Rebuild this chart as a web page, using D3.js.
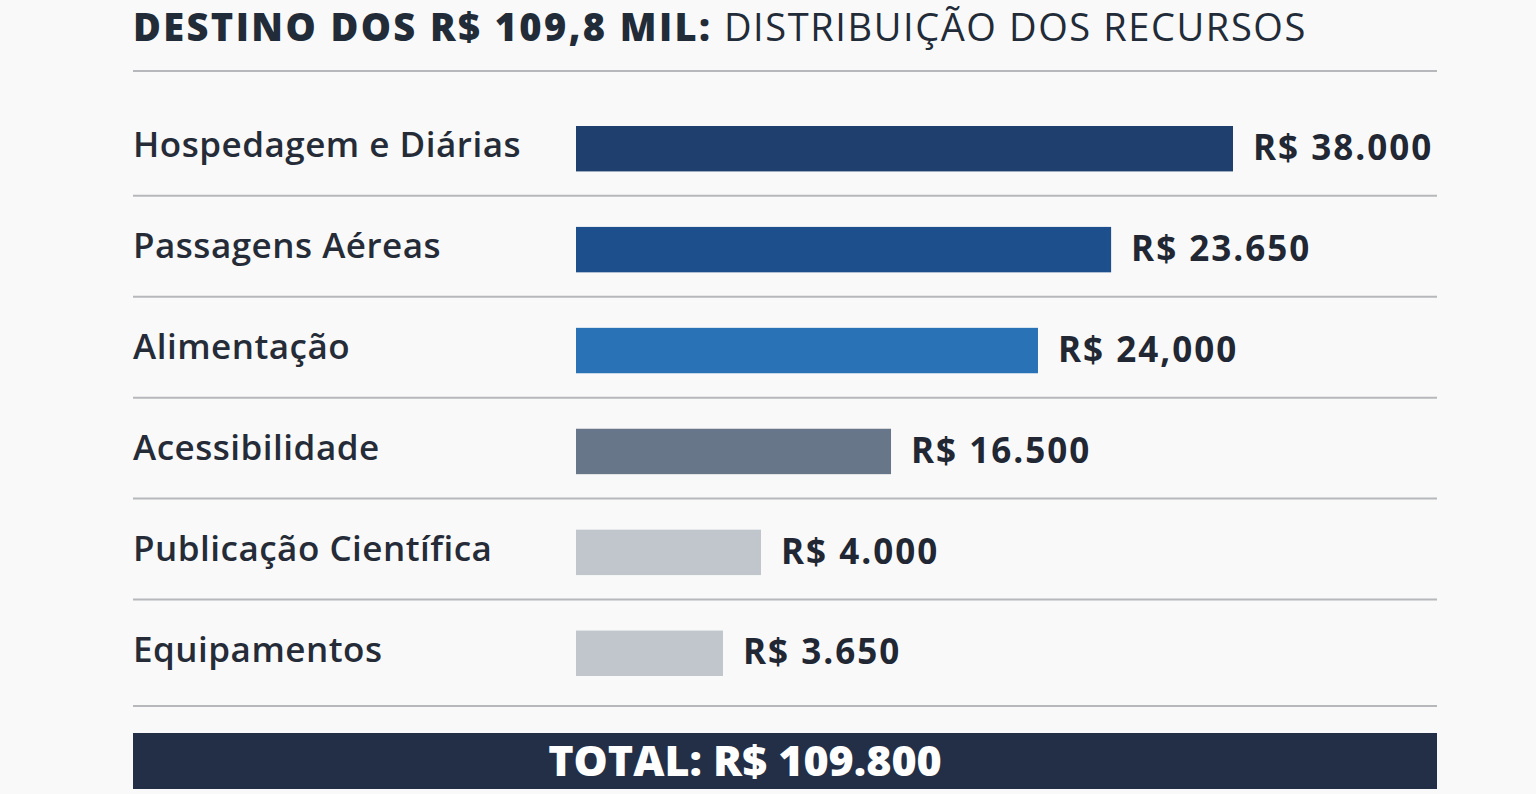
<!DOCTYPE html>
<html>
<head>
<meta charset="utf-8">
<script src="https://cdn.jsdelivr.net/npm/d3@7"></script>
<style>
  html, body { margin: 0; padding: 0; background: #f9f9f9; }
  svg { display: block; }
</style>
</head>
<body>
<script>
//categories, in display order
var categories = ["Hospedagem e Diárias", "Passagens Aéreas", "Alimentação",
                  "Acessibilidade", "Publicação Científica", "Equipamentos"];
//printed value labels (kept as written in the picture)
var valueLabels = ["R$ 38.000", "R$ 23.650", "R$ 24,000", "R$ 16.500", "R$ 4.000", "R$ 3.650"];
//bar lengths in R$ as drawn in the picture (the bars are not to scale with the labels)
var barValues = [38000, 30950, 26720, 18220, 10700, 8500];
var barColors = ["#1f3f6f", "#1d4f8d", "#2a72b6", "#677789", "#c1c6cd", "#c1c6cd"];
var titleBold = "DESTINO DOS R$ 109,8 MIL:";
var titleRest = " DISTRIBUIÇÃO DOS RECURSOS";
var totalLabel = "TOTAL: R$ 109.800";

window.onload = drawChart();

function drawChart(){
    var width = 1536,
        height = 794;

    var svg = d3.select("body")
        .append("svg")
        .attr("width", width)
        .attr("height", height);

    svg.append("rect")
        .attr("width", width)
        .attr("height", height)
        .attr("fill", "#f9f9f9");

    //title
    var title = svg.append("text")
        .attr("x", 133)
        .attr("y", 41)
        .attr("font-family", "Open Sans")
        .attr("font-size", 38)
        .attr("fill", "#222b38");
    title.append("tspan")
        .attr("font-weight", 800)
        .attr("letter-spacing", 2.4)
        .text(titleBold);
    title.append("tspan")
        .attr("font-weight", 500)
        .attr("letter-spacing", 1.6)
        .text(titleRest);

    //row scale
    var y = d3.scaleBand()
        .domain(categories)
        .range([126, 676])
        .paddingInner(0.55)
        .paddingOuter(0);

    var x = d3.scaleLinear()
        .domain([0, 38000])
        .range([576, 1233]);

    //separator lines: top rule, between rows, bottom rule
    var gap = y.step() - y.bandwidth();
    var lineYs = [71].concat(categories.slice(0, -1).map(function(c){
        return y(c) + y.bandwidth() + gap * 0.44;
    })).concat([706]);

    svg.selectAll(".sep")
        .data(lineYs)
        .enter()
        .append("line")
        .attr("class", "sep")
        .attr("x1", 133)
        .attr("x2", 1437)
        .attr("y1", function(d){ return d; })
        .attr("y2", function(d){ return d; })
        .attr("stroke", "#b6b8bb")
        .attr("stroke-width", 2);

    var rows = svg.selectAll(".row")
        .data(categories)
        .enter()
        .append("g")
        .attr("class", "row");

    //category labels
    rows.append("text")
        .attr("x", 133)
        .attr("y", function(d){ return y(d) + y.bandwidth() / 2; })
        .attr("dy", "0.25em")
        .attr("font-family", "Open Sans")
        .attr("font-weight", 600)
        .attr("font-size", 35)
        .attr("letter-spacing", 0.5)
        .attr("fill", "#252c38")
        .text(function(d){ return d; });

    //bars
    rows.append("rect")
        .attr("x", x(0))
        .attr("y", function(d){ return y(d); })
        .attr("height", y.bandwidth())
        .attr("width", function(d, i){ return x(barValues[i]) - x(0); })
        .attr("fill", function(d, i){ return barColors[i]; });

    //value labels
    rows.append("text")
        .attr("x", function(d, i){ return x(barValues[i]) + 20; })
        .attr("y", function(d){ return y(d) + y.bandwidth() / 2; })
        .attr("dy", "0.32em")
        .attr("font-family", "Open Sans")
        .attr("font-weight", 700)
        .attr("font-size", 35)
        .attr("letter-spacing", 2)
        .attr("fill", "#212733")
        .text(function(d, i){ return valueLabels[i]; });

    //total box
    svg.append("rect")
        .attr("x", 133)
        .attr("y", 733)
        .attr("width", 1304)
        .attr("height", 56)
        .attr("fill", "#222f46");

    svg.append("text")
        .attr("x", 745)
        .attr("y", 761)
        .attr("dy", "0.36em")
        .attr("text-anchor", "middle")
        .attr("font-family", "Open Sans")
        .attr("font-weight", 800)
        .attr("font-size", 43)
        .attr("fill", "#ffffff")
        .text(totalLabel);
}
</script>
</body>
</html>
